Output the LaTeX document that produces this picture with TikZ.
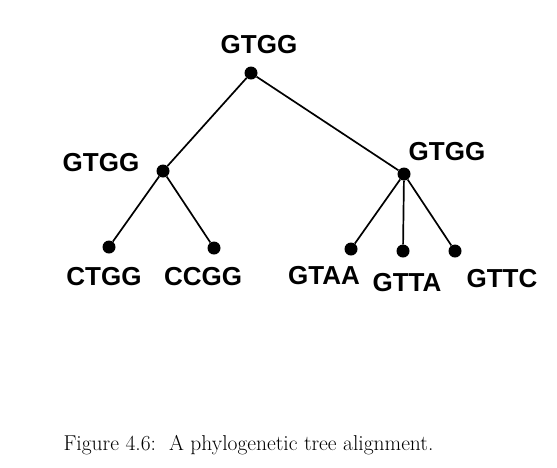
\documentclass[tikz,border=0pt]{standalone}
\usepackage{fontspec}
\newfontfamily\seqfont{Liberation Sans}
\begin{document}
\begin{tikzpicture}[x=1pt,y=-1pt,
  dot/.style={circle,fill=black,inner sep=0pt,minimum size=13pt},
  seq/.style={font=\seqfont\bfseries\fontsize{26}{30}\selectfont,inner sep=0pt},
  branch/.style={black,line width=1.7pt}]
\useasboundingbox (0,0) rectangle (557,467);


\node[dot] (root) at (251,73) {};
\node[dot] (left) at (163,171) {};
\node[dot] (right) at (404,174) {};

\node[dot] (ctgg) at (109,247) {};
\node[dot] (ccgg) at (214,248) {};
\node[dot] (gtaa) at (351,249) {};
\node[dot] (gtta) at (403,251) {};
\node[dot] (gttc) at (455,251) {};


\node[seq] (rootlab) at (259,45) {GTGG};
\node[seq] (leftlab) at (101,163) {GTGG};
\node[seq] (rightlab) at (447,152) {GTGG};

\node[seq] (ctgglab) at (104,277) {CTGG};
\node[seq] (ccgglab) at (203,277) {CCGG};
\node[seq] (gtaalab) at (324,276) {GTAA};
\node[seq] (gttalab) at (407,283) {GTTA};
\node[seq] (gttclab) at (502,279) {GTTC};


\draw[branch] (root) -- (left);
\draw[branch] (root) -- (right);

\draw[branch] (left) -- (ctgg);
\draw[branch] (left) -- (ccgg);

\draw[branch] (right) -- (gtaa);
\draw[branch] (right) -- (gtta);
\draw[branch] (right) -- (gttc);


\node[anchor=west,font=\fontsize{21.5}{26}\selectfont] (caption) at (60,445) {Figure 4.6:\ \ A phylogenetic tree alignment.};


\end{tikzpicture}
\end{document}
